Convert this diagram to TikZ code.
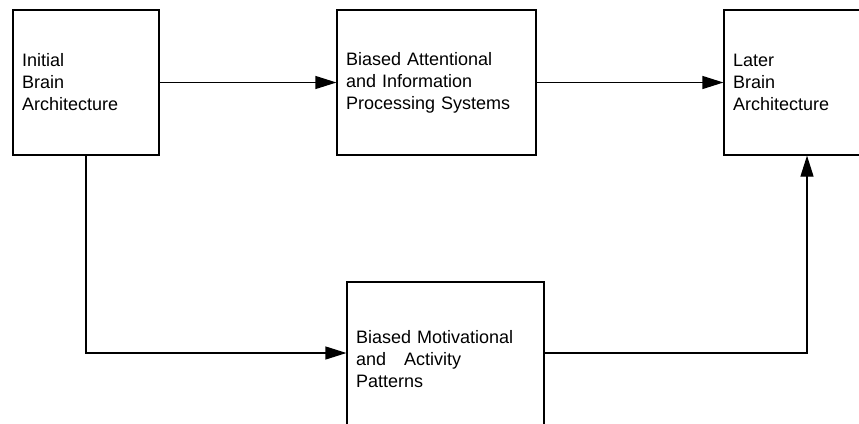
\documentclass[tikz,border=0pt]{standalone}
\usepackage{fontspec}
\setmainfont{Liberation Sans}
\usetikzlibrary{shapes, calc, arrows.meta, math}

\begin{document}
\begin{tikzpicture}[x=1pt, y=-1pt, >={Triangle[length=21pt,width=13pt]}, line width=1.2pt,
  box/.style={draw, rectangle, align=left, inner xsep=9pt, inner ysep=0pt,
              font=\fontsize{18}{22}\selectfont}]

\tikzmath{
			\ytop = 10; \ybot = 155;
			\ymid = (\ytop + \ybot) / 2;
			\hgt = \ybot - \ytop;
         }

\useasboundingbox (0,0) rectangle (859,423);
\clip (0,0) rectangle (859,423);

\node[box, text width=128pt, minimum height=\hgt pt] (init) at (86,\ymid) {Initial\\Brain\\Architecture};
\node[box, text width=181pt, minimum height=\hgt pt] (attn) at (436.5,\ymid) {Biased Attentional\\and Information\\Processing Systems};
\node[box, text width=148pt, minimum height=\hgt pt] (later) at (807,\ymid) {Later\\Brain\\Architecture};
\node[box, text width=179pt, minimum height=154pt] (motiv) at (445.5,359) {Biased Motivational\\and \ \ Activity\\Patterns};

\draw[->] (init) -- (attn);
\draw[->] (attn) -- (later);
\draw[->] (init.south) |- ([yshift=6pt]motiv.west);
\draw[->] ([yshift=6pt]motiv.east) -| (later.south);

\end{tikzpicture}
\end{document}
